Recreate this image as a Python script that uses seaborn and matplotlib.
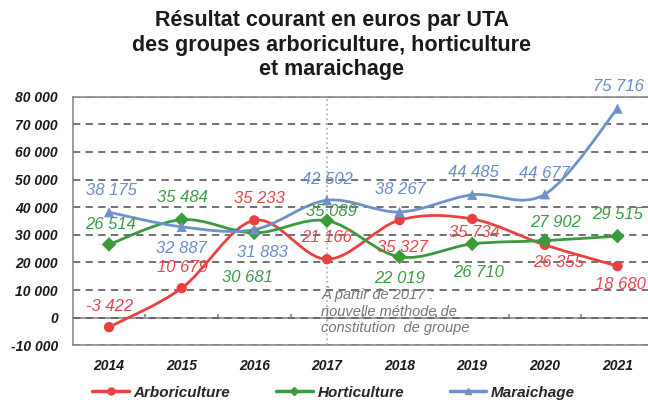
import numpy as np
import pandas as pd
import seaborn as sns
import matplotlib.pyplot as plt
from matplotlib.path import Path
from matplotlib.patches import PathPatch
from matplotlib.lines import Line2D

# data
years = ["2014", "2015", "2016", "2017", "2018", "2019", "2020", "2021"]
arboriculture = [-3422, 10679, 35233, 21166, 35327, 35734, 26355, 18680]
horticulture = [26514, 35484, 30681, 35089, 22019, 26710, 27902, 29515]
maraichage = [38175, 32887, 31883, 42502, 38267, 44485, 44677, 75716]
y_ticks = list(range(-10000, 80001, 10000))

# label offsets (pixels, dx / dy downwards)
off_arbo = [(1, -21), (1, -21), (5, -22), (0, -22), (3, 27), (2, 14), (14, 18), (3, 18)]
off_horti = [(2, -20), (1, -22), (-7, 45), (4, -9), (0, 22), (6, 29), (11, -18), (0, -22)]
off_mara = [(2, -22), (0, 22), (8, 23), (0, -21), (1, -22), (1, -22), (0, -21), (1, -22)]

sns.set_theme(style="white")
plt.rcParams["font.family"] = ["Liberation Sans", "DejaVu Sans"]

series = [
    ("Arboriculture", arboriculture, "#e8413f", "#e2474b", "o", 5, off_arbo),
    ("Horticulture", horticulture, "#3a9a3c", "#3f9a48", "D", 4, off_horti),
    ("Maraichage", maraichage, "#6f91cb", "#6a8cc7", "^", 5, off_mara),
]

df = pd.concat([pd.DataFrame({"x": range(len(years)), "value": vals, "groupe": name})
                for name, vals, *_ in series])

fig = plt.figure(figsize=(6.48, 4), dpi=100)
ax = fig.add_axes([0.1122, 0.1368, 0.8878, 0.6214])


def smooth_path(xs, ys):
    # Excel-like smoothed line: cubic bezier through every point
    p = np.column_stack([xs, ys]).astype(float)
    ext = np.vstack([p[0], p, p[-1]])
    verts = [p[0]]
    codes = [Path.MOVETO]
    for i in range(len(p) - 1):
        c1 = p[i] + (ext[i + 2] - ext[i]) / 6
        c2 = p[i + 1] - (ext[i + 3] - ext[i + 1]) / 6
        verts += [c1, c2, p[i + 1]]
        codes += [Path.CURVE4] * 3
    return Path(verts, codes)


for name, vals, col, lcol, mk, ms, offs in series:
    ax.add_patch(PathPatch(smooth_path(range(len(vals)), vals), fill=False,
                           edgecolor=col, lw=2.0, zorder=3, capstyle="round"))

sns.scatterplot(data=df, x="x", y="value", hue="groupe", style="groupe",
                palette={s[0]: s[2] for s in series},
                markers={s[0]: s[4] for s in series},
                s=55, edgecolor="none", legend=False, ax=ax, zorder=4)

for name, vals, col, lcol, mk, ms, offs in series:
    for i, v in enumerate(vals):
        dx, dy = offs[i]
        ax.annotate(f"{v:,}".replace(",", " "), (i, v),
                    xytext=(dx * 0.72, -dy * 0.72), textcoords="offset points",
                    ha="center", va="center", fontsize=12, style="italic",
                    color=lcol, zorder=5)

ax.set_xlim(-0.5, 7.42)
ax.set_ylim(-10000, 80000)
ax.set_yticks(y_ticks)
ax.set_yticklabels([f"{t:,}".replace(",", " ") for t in y_ticks],
                   fontsize=10, fontweight="bold", style="italic")
ax.set_xticks(range(len(years)))
ax.set_xticklabels(years, fontsize=10, fontweight="bold", style="italic")
ax.tick_params(axis="y", length=0, pad=10.5, colors="#1a1a1a")
ax.tick_params(axis="x", length=0, pad=10, colors="#1a1a1a")
ax.set_xlabel("")
ax.set_ylabel("")

ax.yaxis.grid(True, linestyle=(0, (4, 3)), color="#666666", lw=1.3)
ax.xaxis.grid(False)
for side in ["left", "top", "bottom"]:
    ax.spines[side].set_color("#8a8a8a")
    ax.spines[side].set_linewidth(1.2)
ax.spines["right"].set_visible(False)

# zero line with small category ticks
zero = ax.secondary_xaxis(10000 / 90000)
zero.set_xticks(np.arange(0.5, 7, 1))
zero.tick_params(direction="in", length=3, color="#8a8a8a", labelbottom=False)
zero.spines["bottom"].set_color("#8a8a8a")
zero.spines["bottom"].set_linewidth(1.2)

ax.axvline(3, color="#b5b5b5", linestyle=":", lw=1.3, zorder=1)
ax.text(2.92, 11300, "À partir de 2017 :\nnouvelle méthode de\nconstitution  de groupe",
        fontsize=10.5, style="italic", color="#757575", va="top", ha="left",
        linespacing=1.2, zorder=2)

fig.text(0.512, 0.8875, "Résultat courant en euros par UTA\ndes groupes arboriculture, horticulture\net maraichage",
         ha="center", va="center", fontsize=15.5, fontweight="bold", color="#1a1a1a",
         linespacing=1.22)

handles = [Line2D([], [], color=s[2], lw=2.5, marker=s[4], markersize=s[5]) for s in series]
fig.legend(handles, [s[0] for s in series], loc="center", bbox_to_anchor=(0.515, 0.018),
           ncol=3, frameon=False, handlelength=2.4, columnspacing=3.0, handletextpad=0.3,
           prop={"size": 11, "weight": "bold", "style": "italic"})

plt.savefig("out.png", dpi=100)
